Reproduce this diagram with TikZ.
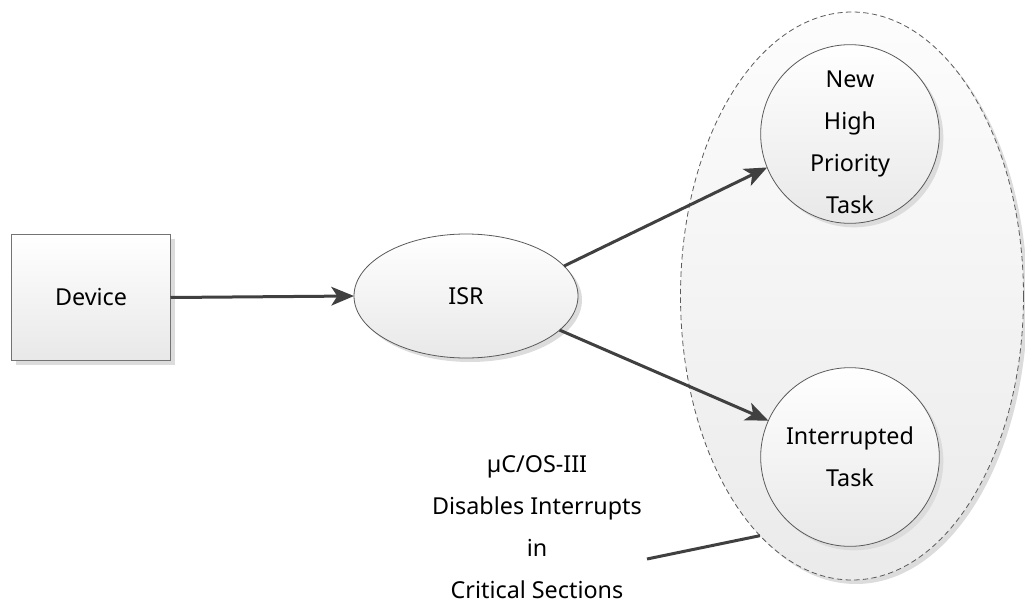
\documentclass[tikz,border=0pt]{standalone}
\usepackage{fontspec}
\setmainfont{Noto Sans}
\usetikzlibrary{arrows.meta,shapes.geometric,shadows}

\definecolor{linegray}{HTML}{404040}
\definecolor{edgegray}{HTML}{5A5A5A}
\definecolor{shadowgray}{HTML}{DCDCDC}

\begin{document}
\begin{tikzpicture}[x=0.75pt,y=-0.75pt,
  every node/.style={inner sep=0pt,outer sep=0pt,align=center,
    font=\fontsize{17.5}{31.5}\selectfont},
  softfill/.style={top color=white,bottom color=black!9},
  softshadow/.style={drop shadow={shadow xshift=3pt,shadow yshift=-3pt,
    fill=shadowgray,opacity=1}},
  devbox/.style={rectangle,draw=edgegray!85,line width=0.8pt,softfill,softshadow,
    minimum width=119.25pt,minimum height=94.5pt},
  isrshape/.style={ellipse,draw=edgegray,line width=0.6pt,softfill,softshadow,
    minimum width=168pt,minimum height=93pt},
  taskshape/.style={circle,draw=edgegray,line width=0.6pt,softfill,softshadow,
    minimum size=134pt},
  group/.style={ellipse,draw=edgegray,line width=0.6pt,dash pattern=on 4pt off 2.5pt,
    top color=black!1,bottom color=black!8,softshadow,
    minimum width=257.25pt,minimum height=426pt},
  flow/.style={draw=linegray,line width=2.25pt,
    -{Stealth[length=17pt,width=14pt,inset=4.5pt]}},
  pointer/.style={draw=linegray,line width=2.25pt}
]
\useasboundingbox (0,0) rectangle (1025,604);

% grouping region around the two tasks
\node[group] (grp) at (852,296) {};

% nodes
\node[devbox] (dev) at (91,297.5) {Device};
\node[isrshape] (isr) at (466,296) {ISR};
\node[taskshape,label={[yshift=-6pt]center:{New\\High\\Priority\\Task}}]
  (nhp) at (850,134) {};
\node[taskshape] (itk) at (850,457) {Interrupted\\Task};

% annotation
\node (note) at (537,527.5) {µC/OS-III\\Disables Interrupts\\in\\Critical Sections};
\coordinate (noteend) at (647,559);

% connectors
\draw[flow] (dev.east) -- (isr.west);
\draw[flow] (isr.17) -- (nhp.202);
\draw[flow] (isr.-20) -- (itk.156);
\draw[pointer] (noteend) -- (grp.249.5);
\end{tikzpicture}
\end{document}
